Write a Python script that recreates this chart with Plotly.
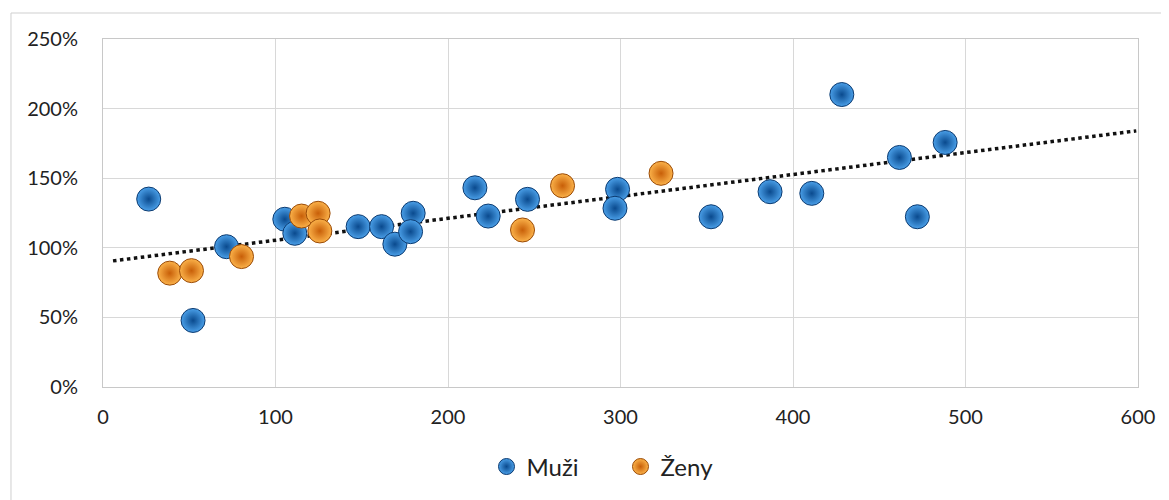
import plotly.graph_objects as go

# Muži (men)
muzi_x = [26.5, 52.2, 71.6, 105.4, 111.2, 147.9, 161.5, 169.2, 179.8, 178.3, 215.6,
          223.3, 246.1, 298.3, 296.8, 352.5, 386.7, 410.9, 428.3, 461.7, 472.1, 488.2]
muzi_y = [1.350, 0.478, 1.008, 1.205, 1.104, 1.152, 1.152, 1.026, 1.248, 1.116, 1.431,
          1.228, 1.348, 1.420, 1.284, 1.223, 1.403, 1.391, 2.101, 1.649, 1.223, 1.757]
# Ženy (women)
zeny_x = [38.7, 51.3, 80.3, 115.1, 124.7, 125.7, 243.2, 266.4, 323.5]
zeny_y = [0.818, 0.836, 0.937, 1.228, 1.248, 1.121, 1.128, 1.446, 1.535]
# Linear trendline endpoints
trend_x = [5.8, 599]
trend_y = [0.906, 1.84]

x_ticks = [0, 100, 200, 300, 400, 500, 600]
y_ticks = [0, 0.5, 1.0, 1.5, 2.0, 2.5]

fig = go.Figure()
fig.add_trace(go.Scatter(
    x=trend_x, y=trend_y, mode="lines", showlegend=False, hoverinfo="skip",
    line=dict(color="#111111", width=3.5, dash="dot")))
fig.add_trace(go.Scatter(
    x=muzi_x, y=muzi_y, mode="markers", name="Muži",
    marker=dict(size=24, color="#4a9fe8",
                gradient=dict(type="radial", color="#0a4a8e"),
                line=dict(color="#0b3a70", width=1))))
fig.add_trace(go.Scatter(
    x=zeny_x, y=zeny_y, mode="markers", name="Ženy",
    marker=dict(size=24, color="#fbb24a",
                gradient=dict(type="radial", color="#c85f08"),
                line=dict(color="#9a4a06", width=1))))

fig.update_layout(
    width=1169, height=500,
    margin=dict(l=95, r=39, t=31, b=121),
    paper_bgcolor="white", plot_bgcolor="white",
    font=dict(family="Lato, 'Open Sans', sans-serif", size=20, color="#222222"),
    xaxis=dict(range=[0, 600], tickvals=x_ticks, showgrid=True,
               gridcolor="#d8d8d8", gridwidth=1, zeroline=False,
               showline=True, linecolor="#c8c8c8", mirror=True, ticks="",
               ticklen=0, ticklabelstandoff=12),
    yaxis=dict(range=[0, 2.5], tickvals=y_ticks, tickformat=".0%", showgrid=True,
               gridcolor="#d8d8d8", gridwidth=1, zeroline=False,
               showline=True, linecolor="#c8c8c8", mirror=True, ticks="",
               ticklabelstandoff=20),
    legend=dict(orientation="h", x=0.5, xanchor="center", y=-0.165, yanchor="top",
                font=dict(size=24), itemwidth=30, entrywidth=89),
    shapes=[dict(type="rect", xref="paper", yref="paper",
                 x0=-0.0889, x1=1.06, y0=-0.4, y1=1.0747,
                 line=dict(color="#cfcfcf", width=1), layer="below")],
)

fig.write_html("out.html")
